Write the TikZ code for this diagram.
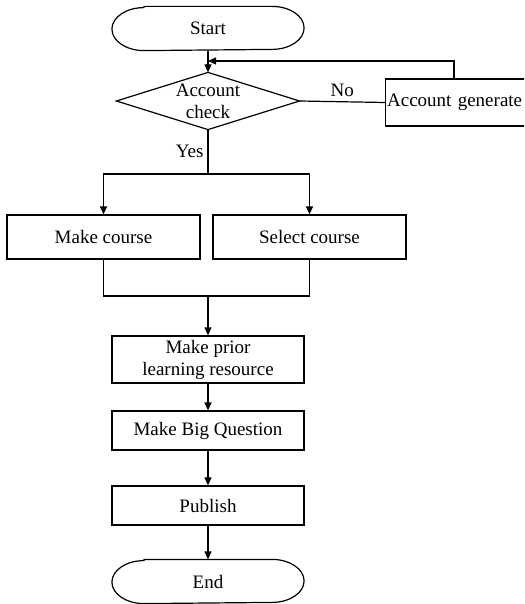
\documentclass[tikz,border=0pt]{standalone}
\usepackage{fontspec}
\setmainfont{Liberation Serif}
\usetikzlibrary{arrows.meta,calc}
\begin{document}
\begin{tikzpicture}[x=1pt,y=-1pt,line width=1.2pt,
  every node/.style={font=\fontsize{19}{22}\selectfont},
  box/.style={draw,rectangle,inner sep=0pt,align=center},
  hold/.style={rectangle,inner sep=0pt,align=center},
  arr/.style={-{Triangle[length=8pt,width=7pt]}},
  lbl/.style={inner sep=0pt}]
\useasboundingbox (0,0) rectangle (524,604);
\clip (0,0) rectangle (524,604);
% nodes
\node[hold,minimum width=191pt,minimum height=43pt] (start) at (208,28.5) {Start};
\node[hold,minimum width=182pt,minimum height=56pt] (chk) at (208,101) {Account\\check};
\node[box,anchor=west,minimum height=47pt,text width=175pt,align=left,inner xsep=1.5pt] (gen) at (385,102.5) {Account generate};
\node[box,minimum width=193pt,minimum height=44pt] (mk) at (103.5,237) {Make course};
\node[box,minimum width=193pt,minimum height=44pt] (sel) at (309.5,237) {Select course};
\node[box,minimum width=192pt,minimum height=47pt] (prior) at (208,359.5) {Make prior\\learning resource};
\node[box,minimum width=192pt,minimum height=39pt] (bigq) at (208,430.5) {Make Big Question};
\node[box,minimum width=192pt,minimum height=39pt] (pub) at (208,505.5) {Publish};
\node[hold,minimum width=191pt,minimum height=43pt] (end) at (208,581.5) {End};
% terminator outlines
\foreach \n in {start,end}{
  \draw ([xshift=32pt]\n.north west) -- ([xshift=-32pt]\n.north east)
    arc[start angle=90,end angle=-90,x radius=32pt,y radius=21.5pt]
    -- ([xshift=32pt]\n.south west)
    arc[start angle=270,end angle=90,x radius=32pt,y radius=21.5pt] -- cycle;
}
% diamond outline
\draw (chk.north) -- (chk.east) -- (chk.south) -- (chk.west) -- cycle;
% coordinates
\coordinate (fb) at (208,61);
\coordinate (split) at (208,174);
\coordinate (merge) at (208,296);
\coordinate (genup) at ([xshift=69pt]gen.north west);
% connectors
\draw[arr] (start.south) -- (chk.north);
\draw (chk.east) -- node[lbl,above=4pt] {No} (gen.west);
\draw[arr] (genup) |- (fb);
\draw (chk.south) -- node[lbl,left=4pt,pos=0.5] {Yes} (split);
\draw[arr] (split) -| (mk.north);
\draw[arr] (split) -| (sel.north);
\draw (mk.south) |- (merge) -| (sel.south);
\draw[arr] (merge) -- (prior.north);
\draw[arr] (prior.south) -- (bigq.north);
\draw[arr] (bigq.south) -- (pub.north);
\draw[arr] (pub.south) -- (end.north);
\end{tikzpicture}
\end{document}
